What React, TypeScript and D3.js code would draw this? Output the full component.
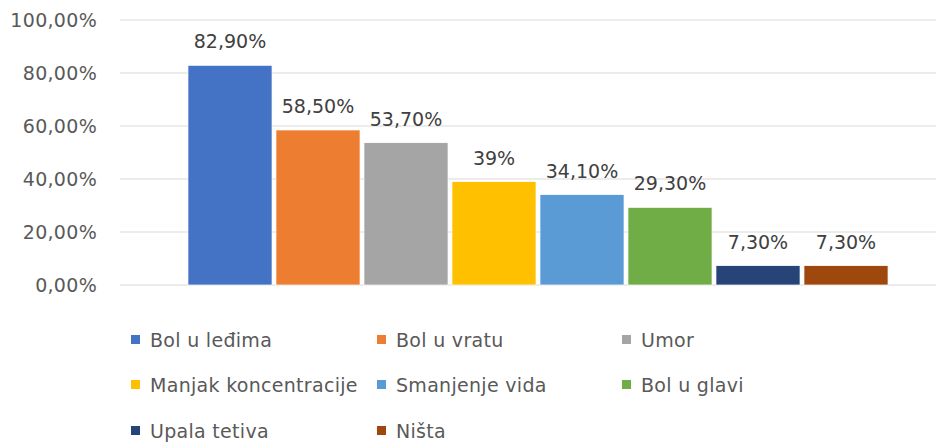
import React from "react";
import * as d3 from "d3";

const categories = ["Bol u leđima", "Bol u vratu", "Umor", "Manjak koncentracije", "Smanjenje vida", "Bol u glavi", "Upala tetiva", "Ništa"];
const values = [82.9, 58.5, 53.7, 39, 34.1, 29.3, 7.3, 7.3];
const labels = ["82,90%", "58,50%", "53,70%", "39%", "34,10%", "29,30%", "7,30%", "7,30%"];
const colors = ["#4472C4", "#ED7D31", "#A5A5A5", "#FFC000", "#5B9BD5", "#70AD47", "#264478", "#9E480E"];
const yTicks = [0, 20, 40, 60, 80, 100];
const yTickLabels = ["0,00%", "20,00%", "40,00%", "60,00%", "80,00%", "100,00%"];

const W = 936, H = 444;
const FONT = "'DejaVu Sans', sans-serif";

export default function App() {
  const y = d3.scaleLinear().domain([0, 100]).range([285, 20]);
  const x = d3.scaleBand<string>().domain(categories).range([186, 890]).paddingInner(0.045).paddingOuter(0.0225);
  const legendCols = [131, 377, 622];
  const legendRows = [340, 385, 431];
  return (
    <svg width={W} height={H} style={{ position: "absolute", left: 0, top: 0, background: "#fff" }}>
      {yTicks.map((t, i) => (
        <g key={t}>
          <line x1={120} x2={936} y1={y(t)} y2={y(t)} stroke="#D9D9D9" strokeWidth={1} />
          <text x={97} y={y(t)} dy="0.36em" textAnchor="end" fontFamily={FONT} fontSize={19} fill="#595959" letterSpacing={0.3}>{yTickLabels[i]}</text>
        </g>
      ))}
      {categories.map((c, i) => (
        <g key={c}>
          <rect x={x(c)} y={y(values[i])} width={x.bandwidth()} height={y(0) - y(values[i])} fill={colors[i]} stroke="#fff" strokeWidth={0.7} />
          <text x={(x(c) as number) + x.bandwidth() / 2} y={y(values[i]) - 17} textAnchor="middle" fontFamily={FONT} fontSize={19} fill="#404040" letterSpacing={0}>{labels[i]}</text>
        </g>
      ))}
      {categories.map((c, i) => {
        const cx = legendCols[i % 3];
        const cy = legendRows[Math.floor(i / 3)];
        return (
          <g key={"l" + c}>
            <rect x={cx} y={cy - 5} width={9} height={9} fill={colors[i]} />
            <text x={cx + 19} y={cy} dy="0.36em" fontFamily={FONT} fontSize={19} fill="#595959" letterSpacing={0.3}>{c}</text>
          </g>
        );
      })}
    </svg>
  );
}
